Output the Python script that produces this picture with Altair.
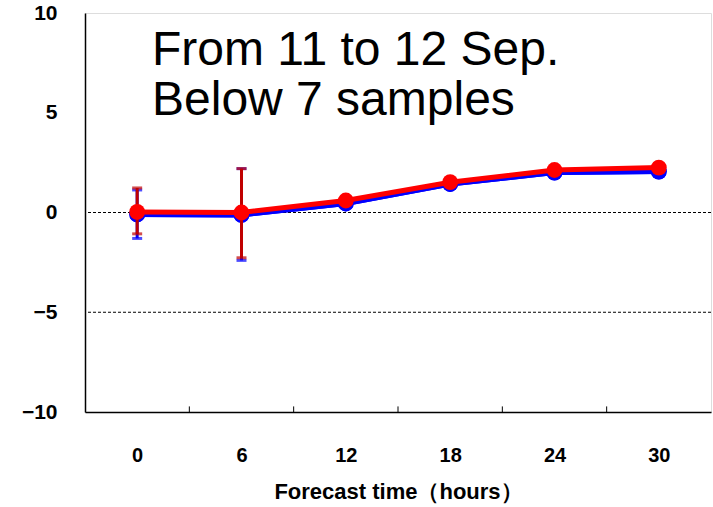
import altair as alt
import pandas as pd

hours = [0, 6, 12, 18, 24, 30]
blue_vals = [-0.1, -0.12, 0.45, 1.43, 2.0, 2.05]
red_vals = [0.03, 0.0, 0.6, 1.52, 2.13, 2.25]
blue_err_low = [-1.3, -2.4, None, None, None, None]
blue_err_high = [1.13, 2.2, None, None, None, None]
red_err_low = [-1.07, -2.27, None, None, None, None]
red_err_high = [1.23, 2.2, None, None, None, None]
grid_levels = [0, -5]
inner_ticks = [3, 9, 15, 21, 27]
y_ticks = [-10, -5, 0, 5, 10]
title_lines = ["From 11 to 12 Sep.", "Below 7 samples"]

BLUE = "#0000FF"
RED = "#FF0000"
DARKRED = "#C00000"

def series_df(vals, lo, hi):
    return pd.DataFrame({"hour": hours, "v": vals, "lo": lo, "hi": hi})

blue_df = series_df(blue_vals, blue_err_low, blue_err_high)
red_df = series_df(red_vals, red_err_low, red_err_high)

x_enc = alt.X(
    "hour:Q",
    scale=alt.Scale(domain=[-3, 33], nice=False, zero=False),
    axis=alt.Axis(
        values=hours, ticks=False, grid=False, labelPadding=33,
        labelFont="Liberation Sans", labelFontSize=20, labelFontWeight="bold",
        labelColor="black", title="Forecast time（hours）",
        titleFont="Liberation Sans", titleFontSize=22, titleFontWeight="bold",
        titleColor="black", titlePadding=16, domainColor="black", domainWidth=1.5,
    ),
)
y_scale = alt.Scale(domain=[-10, 10], nice=False, zero=False)
y_enc = alt.Y(
    "v:Q", scale=y_scale,
    axis=alt.Axis(
        values=y_ticks, ticks=False, grid=False, labelPadding=28,
        labelFont="Liberation Sans", labelFontSize=21, labelFontWeight="bold",
        labelColor="black", title=None, domainColor="black", domainWidth=1.5,
    ),
)

grid = alt.Chart(pd.DataFrame({"v": grid_levels})).mark_rule(
    color="black", strokeWidth=1, strokeDash=[3, 2]
).encode(y=alt.Y("v:Q", scale=y_scale))

ticks = alt.Chart(pd.DataFrame({"hour": inner_ticks, "a": -10, "b": -9.72})).mark_rule(
    color="black", strokeWidth=1
).encode(x=alt.X("hour:Q"), y=alt.Y("a:Q", scale=y_scale), y2="b:Q")

def err_layers(df, color):
    d = df.dropna()
    base = alt.Chart(d)
    bar = base.mark_rule(color=color, strokeWidth=3).encode(
        x="hour:Q", y=alt.Y("lo:Q", scale=y_scale), y2="hi:Q")
    cap_lo = base.mark_tick(color=color, size=10, thickness=3, orient="horizontal").encode(
        x="hour:Q", y=alt.Y("lo:Q", scale=y_scale))
    cap_hi = base.mark_tick(color=color, size=10, thickness=3, orient="horizontal").encode(
        x="hour:Q", y=alt.Y("hi:Q", scale=y_scale))
    return [bar, cap_lo, cap_hi]

def line_layer(df, color):
    return alt.Chart(df).mark_line(
        color=color, strokeWidth=5,
        point=alt.OverlayMarkDef(filled=True, size=250, color=color, opacity=1),
    ).encode(x=x_enc, y=y_enc)

text_layers = []
for i, t in enumerate(title_lines):
    text_layers.append(
        alt.Chart(pd.DataFrame({"t": [t]})).mark_text(
            align="left", baseline="alphabetic", font="Liberation Sans",
            fontSize=48, color="black",
        ).encode(x=alt.value(67), y=alt.value(52 + 50 * i), text="t:N")
    )

layers = [line_layer(blue_df, BLUE), grid, ticks] + err_layers(blue_df, BLUE) + [line_layer(blue_df, BLUE)] \
    + err_layers(red_df, DARKRED) + [line_layer(red_df, RED)] + text_layers

chart = alt.layer(*layers).properties(
    width=626, height=399,
    autosize=alt.AutoSizeParams(type="none"),
    padding={"left": 85, "top": 13, "right": 2, "bottom": 95},
).configure_view(stroke="#888888", strokeWidth=1.5).configure(background="white")

chart.save("out.html", embed_options={"renderer": "svg", "actions": False})
